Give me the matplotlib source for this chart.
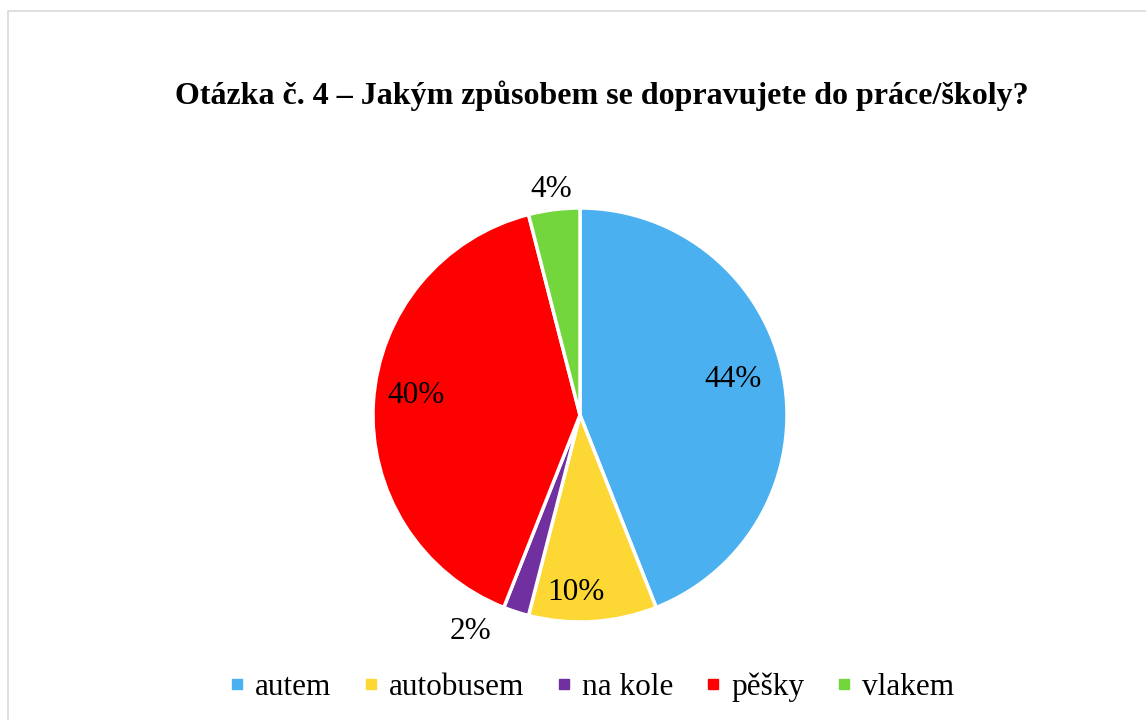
import numpy as np
import matplotlib
matplotlib.use("Agg")
import matplotlib.pyplot as plt
from matplotlib.lines import Line2D
from matplotlib.patches import Rectangle

# Survey answers (share of respondents, %)
categories = ["autem", "autobusem", "na kole", "pěšky", "vlakem"]
shares = [44, 10, 2, 40, 4]
colors = ["#4BB0F0", "#FDD835", "#7030A0", "#FF0000", "#72D63C"]
title = "Otázka č. 4 – Jakým způsobem se dopravujete do práce/školy?"

# label placement: radial distance (in radii) and angular nudge (deg)
label_radius = [0.76, 0.85, 1.16, 0.80, 1.11]
label_nudge = [3, -5, -9, -4, 0]

plt.rcParams["font.family"] = ["Liberation Serif", "DejaVu Serif"]

W, H = 1146, 720
fig = plt.figure(figsize=(W / 100, H / 100), dpi=100)
fig.patch.set_facecolor("white")

# chart area outline
fig.add_artist(Rectangle((7.5 / W, -0.01), 1.2, 1 - 10.5 / H + 0.01,
                         transform=fig.transFigure, fill=False,
                         edgecolor="#D9D9D9", linewidth=1.2))

cx, cy, r = 580, 415, 207
ax = fig.add_axes([(cx - r) / W, (H - cy - r) / H, 2 * r / W, 2 * r / H])
wedges, _ = ax.pie(shares, colors=colors, startangle=90, counterclock=False,
                   radius=1.0,
                   wedgeprops=dict(edgecolor="white", linewidth=2.5))
ax.set_xlim(-1, 1)
ax.set_ylim(-1, 1)
ax.set_aspect("equal")
ax.axis("off")

for w, val, rr, nudge in zip(wedges, shares, label_radius, label_nudge):
    ang = np.deg2rad((w.theta1 + w.theta2) / 2 + nudge)
    ax.text(rr * np.cos(ang), rr * np.sin(ang) - 0.01, f"{val}%",
            ha="center", va="center", fontsize=22.5, color="black",
            clip_on=False)

fig.text(0.525, 1 - 96 / H, title, ha="center", va="center",
         fontsize=23, fontweight="bold", color="black")

handles = [Line2D([], [], marker="s", linestyle="", color=c, markersize=7.8)
           for c in colors]
fig.legend(handles, categories, loc="center", bbox_to_anchor=(0.5166, 1 - 687 / H),
           ncol=5, frameon=False, fontsize=22.5, handlelength=0.45,
           handletextpad=0.35, columnspacing=1.05, borderpad=0)

fig.savefig("out.png", dpi=100, facecolor="white")
